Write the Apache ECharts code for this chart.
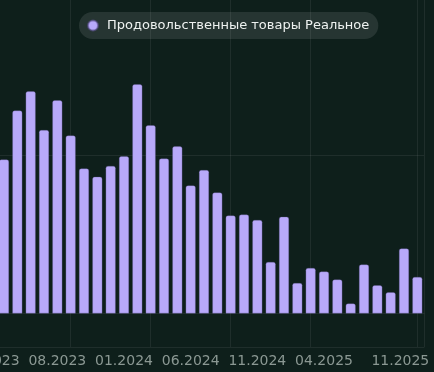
<!DOCTYPE html>
<html>
<head>
<meta charset="utf-8">
<script src="https://cdn.jsdelivr.net/npm/echarts@6/dist/echarts.min.js"></script>
<style>
html,body{margin:0;padding:0;background:#0e1f1b;overflow:hidden;width:434px;height:372px;position:relative;}
#c{position:absolute;left:-16px;top:-37px;width:450px;height:409px;}
</style>
</head>
<body>
<div id="c"></div>
<script>
const seriesName = 'Продовольственные товары Реальное';
const categories = ['03.2023','04.2023','05.2023','06.2023','07.2023','08.2023','09.2023','10.2023','11.2023','12.2023',
  '01.2024','02.2024','03.2024','04.2024','05.2024','06.2024','07.2024','08.2024','09.2024','10.2024','11.2024','12.2024',
  '01.2025','02.2025','03.2025','04.2025','05.2025','06.2025','07.2025','08.2025','09.2025','10.2025','11.2025'];
const values = [4.5, 4.81, 6.34, 6.94, 5.73, 6.66, 5.56, 4.53, 4.27, 4.61, 4.91,
  7.16, 5.88, 4.84, 5.22, 4.00, 4.48, 3.78, 3.06, 3.09, 2.92, 1.61,
  3.02, 0.95, 1.42, 1.31, 1.06, 0.31, 1.53, 0.88, 0.66, 2.03, 1.14];

const lastIdx = categories.length - 1;
const chart = echarts.init(document.getElementById('c'), null, {renderer: 'canvas'});
const gridColor = 'rgba(255,255,255,0.07)';
chart.setOption({
  backgroundColor: '#0e1f1b',
  animation: false,
  textStyle: {fontFamily: 'DejaVu Sans'},
  legend: {
    show: true,
    left: 95, top: 49,
    padding: [7, 9, 7, 8],
    backgroundColor: 'rgba(255,255,255,0.1)',
    borderRadius: 15,
    icon: 'circle',
    itemWidth: 10, itemHeight: 10,
    textStyle: {color: '#eef2f0', fontSize: 13, fontFamily: 'DejaVu Sans', padding: [0, 0, 0, 4]},
    data: [seriesName]
  },
  grid: {left: 0, right: 10, top: 0, bottom: 25, containLabel: false, outerBoundsMode: 'none'},
  xAxis: {
    type: 'category',
    data: categories,
    boundaryGap: true,
    axisLine: {show: true, lineStyle: {color: gridColor}},
    axisTick: {show: false},
    axisLabel: {
      color: '#8b9893', fontSize: 14, fontFamily: 'DejaVu Sans', margin: 7,
      interval: function (i) { return (i % 5 === 0 && i !== 30) || i === lastIdx; },
      formatter: function (v, i) { return i === lastIdx ? '{r|' + v + '}' : v; },
      rich: {r: {color: '#8b9893', fontSize: 14, fontFamily: 'DejaVu Sans', padding: [0, 34, 0, 0]}}
    },
    splitLine: {
      show: true,
      alignWithLabel: true,
      interval: function (i) { return (i % 6 === 0 && i < 30) || i === lastIdx; },
      lineStyle: {color: gridColor}
    }
  },
  yAxis: {
    type: 'value',
    position: 'right',
    min: -1.05, max: 10.95, interval: 6,
    axisLine: {show: true, lineStyle: {color: gridColor}},
    axisTick: {show: false},
    axisLabel: {show: false},
    splitLine: {show: true, lineStyle: {color: gridColor}}
  },
  series: [{
    name: seriesName,
    type: 'bar',
    data: values,
    barWidth: 10,
    itemStyle: {color: '#b8a9fa', borderRadius: [2, 2, 0, 0], borderColor: 'rgba(90,80,140,0.6)', borderWidth: 0.5}
  }]
});
</script>
</body>
</html>
